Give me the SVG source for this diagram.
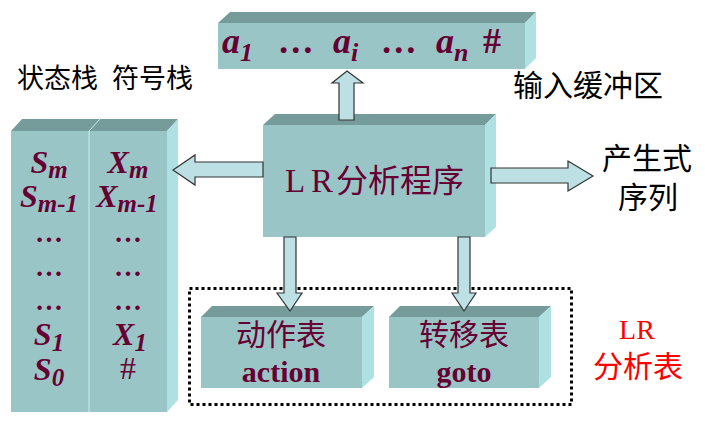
<svg xmlns="http://www.w3.org/2000/svg" width="705" height="428" viewBox="0 0 705 428">
  <style>
    .front { fill: #9ac5c6; }
    .top { fill: #769b9b; }
    .side { fill: #b0e1e2; }
    .edge { stroke: #c9ecec; stroke-width: 1; fill: none; }
    .arrow { fill: #bce0e3; stroke: #333333; stroke-width: 1.2; stroke-linejoin: miter; }
    .sym { font-family: "Liberation Serif", serif; font-weight: bold; font-style: italic; fill: #660033; }
    .lat { font-family: "Liberation Serif", serif; fill: #660033; }
    .cjk { font-family: "Liberation Serif", "Noto Sans CJK SC", sans-serif; }
    .plain { fill: #000000; }
    .maroon { fill: #660033; }
    .red { fill: #ff0000; }
  </style>

  <!-- input buffer -->
  <g id="input-buffer">
    <rect class="front" x="218" y="23" width="307" height="46"/>
    <polygon class="top" points="218,23 230,12 536,12 525,23"/>
    <polygon class="side" points="525,23 536,12 536,58 525,69"/>
    <text class="sym" font-size="36" y="53">
      <tspan x="222">a</tspan><tspan font-size="26" dy="8">1</tspan>
      <tspan x="279" dy="-8">…</tspan>
      <tspan x="333">a</tspan><tspan font-size="26" dy="8">i</tspan>
      <tspan x="382" dy="-8">…</tspan>
      <tspan x="436">a</tspan><tspan font-size="26" dy="8">n</tspan>
      <tspan x="483" dy="-8" font-style="normal">#</tspan>
    </text>
  </g>
  <text id="input-label" class="cjk plain" x="513" y="96" font-size="30">输入缓冲区</text>

  <!-- state / symbol stacks -->
  <text id="stack-label" class="cjk plain" y="88" font-size="27"><tspan x="17">状态栈</tspan><tspan x="112">符号栈</tspan></text>
  <g id="stacks">
    <rect class="front" x="11" y="131" width="156" height="281"/>
    <polygon class="top" points="11,131 22,119 178,119 167,131"/>
    <polygon class="side" points="167,131 178,119 178,400 167,412"/>
    <line class="edge" x1="89" y1="131" x2="89" y2="412"/>
    <line class="edge" x1="89" y1="131" x2="100" y2="119"/>
    <g class="sym" font-size="32" text-anchor="middle">
      <text x="49" y="173">S<tspan font-size="25" dy="5">m</tspan></text>
      <text x="49" y="207">S<tspan font-size="25" dy="5">m-1</tspan></text>
      <text x="49" y="242" font-size="28" font-style="normal">…</text>
      <text x="49" y="276" font-size="28" font-style="normal">…</text>
      <text x="49" y="310" font-size="28" font-style="normal">…</text>
      <text x="49" y="345">S<tspan font-size="25" dy="6">1</tspan></text>
      <text x="49" y="380">S<tspan font-size="25" dy="6">0</tspan></text>
      <text x="128" y="173">X<tspan font-size="25" dy="5">m</tspan></text>
      <text x="127" y="207">X<tspan font-size="25" dy="5">m-1</tspan></text>
      <text x="128" y="242" font-size="28" font-style="normal">…</text>
      <text x="128" y="276" font-size="28" font-style="normal">…</text>
      <text x="128" y="310" font-size="28" font-style="normal">…</text>
      <text x="130" y="345">X<tspan font-size="25" dy="6">1</tspan></text>
      <text x="128" y="379" font-style="normal" font-weight="normal">#</text>
    </g>
  </g>

  <!-- LR parser program -->
  <g id="lr-program">
    <rect class="front" x="263" y="125" width="222" height="112"/>
    <polygon class="top" points="263,125 275,114 496,114 485,125"/>
    <polygon class="side" points="485,125 496,114 496,227 485,237"/>
    <text class="lat" y="192" font-size="33">
      <tspan x="285">L</tspan><tspan x="311">R</tspan><tspan x="336" font-family="Noto Sans CJK SC, sans-serif" font-size="32">分析程序</tspan>
    </text>
  </g>

  <!-- output: production sequence -->
  <g id="output-label" class="cjk plain" font-size="30" text-anchor="middle">
    <text x="647" y="169">产生式</text>
    <text x="648" y="208">序列</text>
  </g>

  <!-- LR parse table -->
  <rect id="lr-table-frame" x="189.5" y="288.5" width="382" height="116" fill="none" stroke="#000" stroke-width="3" stroke-dasharray="3 3"/>
  <g id="action-table">
    <rect class="front" x="201" y="317" width="161" height="71"/>
    <polygon class="top" points="201,317 212,306 374,306 362,317"/>
    <polygon class="side" points="362,317 374,306 374,377 362,388"/>
    <text class="cjk maroon" x="281" y="345" font-size="30" text-anchor="middle">动作表</text>
    <text class="lat" x="281" y="382" font-size="30" font-weight="bold" text-anchor="middle">action</text>
  </g>
  <g id="goto-table">
    <rect class="front" x="389" y="317" width="150" height="71"/>
    <polygon class="top" points="389,317 400,306 551,306 539,317"/>
    <polygon class="side" points="539,317 551,306 551,377 539,388"/>
    <text class="cjk maroon" x="464" y="345" font-size="30" text-anchor="middle">转移表</text>
    <text class="lat" x="464" y="382" font-size="30" font-weight="bold" text-anchor="middle">goto</text>
  </g>
  <g id="lr-table-label" class="red" text-anchor="middle">
    <text x="637" y="339" font-size="28" font-family="Liberation Serif, serif">LR</text>
    <text class="cjk" x="638" y="377" font-size="30">分析表</text>
  </g>

  <!-- block arrows -->
  <g id="connectors">
    <polygon class="arrow" points="339,120 339,83 332,83 347,71 363,83 354,83 354,120"/>
    <polygon class="arrow" points="263,162 195,162 195,155 173,170 195,185 195,177 263,177"/>
    <polygon class="arrow" points="491,168 568,168 568,161 593,176 568,191 568,183 491,183"/>
    <polygon class="arrow" points="284,237 284,293 277,293 290,311 302,293 296,293 296,237"/>
    <polygon class="arrow" points="458,237 458,293 452,293 464,311 476,293 470,293 470,237"/>
  </g>
</svg>
